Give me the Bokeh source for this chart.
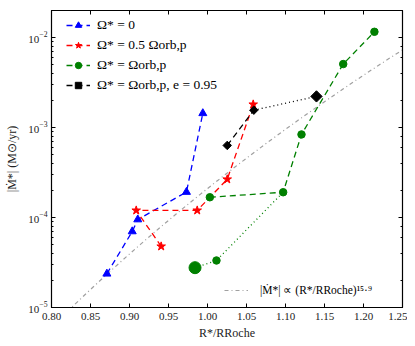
import numpy as np
from bokeh.plotting import figure
from bokeh.models import (Legend, LegendItem, LinearAxis, LogAxis, Range1d,
                          SingleIntervalTicker, PrintfTickFormatter, LogTicker,
                          CustomJSTickFormatter)
from bokeh.embed import file_html
from bokeh.resources import INLINE

# ---- data ----
blue_x = [0.871, 0.9035, 0.9106, 0.973, 0.994]
blue_y = [2.37e-5, 7.0e-5, 9.5e-5, 1.92e-4, 1.44e-3]

red_x = [0.9406, 0.9086, 0.9868, 1.0253, 1.0586]
red_y = [4.78e-5, 1.20e-4, 1.20e-4, 2.66e-4, 1.81e-3]

green_dash_x = [1.003, 1.097, 1.1205, 1.174, 1.214]
green_dash_y = [1.68e-4, 1.91e-4, 8.38e-4, 5.08e-3, 1.16e-2]
green_dot_x = [0.984, 1.0115, 1.097]
green_dot_y = [2.77e-5, 3.33e-5, 1.91e-4]
green_start_x = [0.984]
green_start_y = [2.77e-5]

black_dash_x = [1.0253, 1.0594]
black_dash_y = [6.33e-4, 1.56e-3]
black_dot_x = [1.0594, 1.1397]
black_dot_y = [1.56e-3, 2.22e-3]
black_end_x = [1.1397]
black_end_y = [2.22e-3]

fit_norm = 2.1e-4     # |Mdot| at R*/RRoche = 1
fit_exp = 15.9
fit_x = np.linspace(0.80, 1.25, 60)
fit_y = fit_norm * fit_x ** fit_exp

x_ticks_interval = 0.05

FONT = "Liberation Serif"

p = figure(x_range=Range1d(0.80, 1.25), y_range=Range1d(1e-5, 2.0e-2),
           y_axis_type="log", frame_width=351, frame_height=297,
           min_border_left=51, min_border_right=5, min_border_top=10,
           min_border_bottom=36, output_backend="svg", toolbar_location=None)
p.grid.visible = False
p.outline_line_color = "black"
p.outline_line_width = 1.2
p.background_fill_color = "white"

bottom = p.below[0]
left = p.left[0]
bottom.ticker = SingleIntervalTicker(interval=x_ticks_interval, num_minor_ticks=0)
bottom.formatter = PrintfTickFormatter(format="%.2f")
bottom.axis_label = "R*/RRoche"
left.axis_label = "|Ṁ*| (M⊙/yr)"

blank = CustomJSTickFormatter(code="return ''")
top = LinearAxis(ticker=SingleIntervalTicker(interval=x_ticks_interval, num_minor_ticks=0),
                 formatter=blank, major_label_standoff=0)
right = LogAxis(ticker=LogTicker(), formatter=blank, major_label_standoff=0)
p.add_layout(top, "above")
p.add_layout(right, "right")

for ax in [bottom, left, top, right]:
    ax.major_tick_in = 4
    ax.major_tick_out = 0
    ax.minor_tick_in = 2
    ax.minor_tick_out = 0
    ax.axis_line_color = "black"
    ax.major_tick_line_color = "black"
    ax.minor_tick_line_color = "black"
for ax in [bottom, left]:
    ax.major_label_text_font = FONT
    ax.major_label_text_font_size = "11px"
    ax.major_label_text_color = "#222222"
    ax.axis_label_text_font = FONT
    ax.axis_label_text_font_size = "12px"
    ax.axis_label_text_font_style = "normal"
    ax.axis_label_text_color = "#222222"
bottom.major_label_standoff = 5
bottom.axis_label_standoff = 3
left.major_label_standoff = 4
left.axis_label_standoff = 6

# fit line
fit_r = p.line(fit_x, fit_y, line_color="#a0a0a0", line_width=1.2, line_dash="4 3 1 3")

# blue
bl = p.line(blue_x, blue_y, line_color="blue", line_width=1.3, line_dash="6 4")
bs = p.scatter(blue_x, blue_y, marker="triangle", size=8, fill_color="blue", line_color="blue")

# red
rl = p.line(red_x, red_y, line_color="red", line_width=1.3, line_dash="6 4")
rs = p.scatter(red_x, red_y, marker="star", size=9, fill_color="red", line_color="red")

# green
gl = p.line(green_dash_x, green_dash_y, line_color="green", line_width=1.3, line_dash="6 4")
gd = p.line(green_dot_x, green_dot_y, line_color="green", line_width=1.3, line_dash="1 3")
gs = p.scatter(green_dash_x + green_dot_x[1:2], green_dash_y + green_dot_y[1:2],
               marker="circle", size=7.5, fill_color="green", line_color="green")
gb = p.scatter(green_start_x, green_start_y, marker="circle", size=12,
               fill_color="green", line_color="green")

# black
kl = p.line(black_dash_x, black_dash_y, line_color="black", line_width=1.3, line_dash="6 4")
kd = p.line(black_dot_x, black_dot_y, line_color="black", line_width=1.3, line_dash="1 3")
ks = p.scatter(black_dash_x, black_dash_y, marker="square", angle=np.pi / 4, size=6,
               fill_color="black", line_color="black")
kb = p.scatter(black_end_x, black_end_y, marker="square", angle=np.pi / 4, size=8,
               fill_color="black", line_color="black")

leg1 = Legend(items=[
    LegendItem(label="Ω* = 0", renderers=[bl, bs]),
    LegendItem(label="Ω* = 0.5 Ωorb,p", renderers=[rl, rs]),
    LegendItem(label="Ω* = Ωorb,p", renderers=[gl, gs]),
    LegendItem(label="Ω* = Ωorb,p, e = 0.95", renderers=[kl, ks]),
], location=(7, 206))
leg2 = Legend(items=[LegendItem(label="|Ṁ*| ∝ (R*/RRoche)¹⁵·⁹", renderers=[fit_r])],
              location=(165, 1))
for lg in (leg1, leg2):
    lg.label_text_font = FONT
    lg.label_text_font_style = "normal"
    lg.label_text_color = "black"
    lg.border_line_alpha = 0
    lg.background_fill_alpha = 0
    lg.glyph_width = 24
    lg.glyph_height = 16
    lg.label_height = 16
    lg.label_standoff = 7
    lg.spacing = 4
    lg.margin = 0
    lg.padding = 8
leg1.label_text_font_size = "13.5px"
leg2.label_text_font_size = "11.5px"
leg2.label_standoff = 12
p.add_layout(leg1)
p.add_layout(leg2)

open("out.html", "w").write(file_html(p, INLINE))
